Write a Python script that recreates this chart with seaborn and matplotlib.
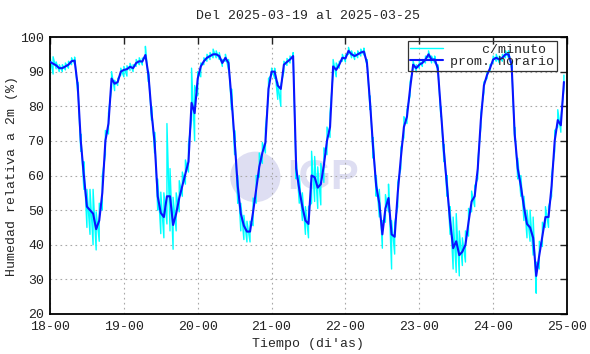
import numpy as np
import pandas as pd
import matplotlib
matplotlib.use("Agg")
import matplotlib.pyplot as plt
import seaborn as sns
from matplotlib.patches import Ellipse

# promedio horario de humedad relativa (%), 24 valores por dia
dia18 = [92.8, 92.3, 91.8, 91.0, 91.0, 91.5, 92.0, 93.0, 93.2, 86.0, 70.0, 60.0,
         51.0, 50.0, 49.0, 44.5, 47.0, 55.0, 70.0, 75.0, 88.0, 86.5, 87.0, 90.0]
dia19 = [90.5, 90.7, 91.4, 91.0, 92.5, 93.0, 92.9, 94.8, 89.0, 78.0, 69.5, 54.0,
         49.2, 48.0, 54.0, 54.0, 45.7, 49.0, 53.5, 57.0, 60.5, 64.0, 81.0, 78.0]
dia20 = [88.0, 91.5, 93.0, 94.0, 94.5, 95.0, 95.0, 94.5, 92.5, 94.0, 92.5, 82.0,
         70.0, 57.0, 49.0, 45.5, 43.8, 43.8, 49.5, 56.0, 62.5, 66.5, 69.5, 85.0]
dia21 = [90.0, 90.0, 86.0, 85.0, 92.0, 92.8, 93.5, 94.5, 62.0, 56.0, 51.0, 47.0,
         46.0, 60.0, 59.5, 56.5, 57.5, 63.0, 70.0, 74.0, 91.5, 90.5, 92.0, 94.0]
dia22 = [93.8, 96.0, 95.0, 94.5, 95.0, 95.5, 95.8, 92.5, 81.0, 68.0, 57.0, 52.0,
         43.0, 50.5, 53.5, 43.0, 42.3, 55.0, 65.0, 74.0, 77.0, 85.0, 92.0, 91.0]
dia23 = [92.0, 92.5, 93.5, 95.0, 93.5, 93.5, 91.0, 79.0, 67.0, 57.0, 47.0, 39.0,
         41.0, 37.0, 38.0, 40.0, 46.5, 52.5, 54.0, 62.0, 76.0, 86.0, 89.0, 91.0]
dia24 = [93.5, 94.0, 93.5, 94.0, 95.0, 95.0, 92.0, 72.0, 62.0, 57.0, 51.0, 46.0,
         45.0, 42.0, 31.0, 37.0, 42.5, 48.0, 48.0, 57.0, 70.0, 76.0, 74.5, 87.0]

# dispersion de los datos por minuto respecto al promedio (abajo / arriba)
bajo18 = [2, 3, 1, 1, 1, 1, 1, 1, 1, 2, 3, 4, 6, 7, 9, 6, 6, 5, 4, 3, 3, 2, 1, 1]
alto18 = [1.5, 2, 1, 1, 1, 1, 1, 1, 1, 1, 2, 4, 5, 6, 7, 5, 5, 5, 3, 3, 2, 1, 1, 1]
bajo19 = [2, 2, 1, 1, 1, 1, 1, 1, 2, 2, 3, 4, 6, 6, 8, 10, 7, 5, 4, 3, 3, 3, 5, 8]
alto19 = [1, 1, 1, 1, 1, 1, 1, 2.5, 1, 2, 3, 5, 6, 7, 21, 8, 8, 6, 5, 4, 4, 5, 10, 8]
bajo20 = [5, 3, 1, 1, 1, 1, 1, 1, 1, 1, 2, 3, 4, 5, 5, 4, 3, 3, 4, 4, 3, 3, 3, 2]
alto20 = [2, 1, 1, 1, 1, 1.5, 1, 1, 1, 1, 1, 3, 3, 3, 3, 3, 3, 3, 4, 4, 4, 3, 4, 3]
bajo21 = [1, 2, 4, 5, 2, 1, 1, 1, 3, 4, 4, 4, 4, 8, 7, 6, 6, 5, 4, 3, 2, 2, 1, 1]
alto21 = [1, 1, 1, 1, 1, 1, 1, 1, 3, 4, 4, 4, 5, 7, 6, 6, 6, 5, 4, 4, 2, 2, 1, 1]
bajo22 = [1, 1, 1, 1, 1, 1, 1, 1, 2, 3, 3, 4, 4, 4, 4, 10, 5, 4, 3, 3, 2, 2, 1, 1]
alto22 = [1, 1, 1, 1, 1, 1, 1, 1, 2, 3, 3, 4, 4, 4, 4, 4, 4, 3, 3, 3, 2, 2, 1, 1]
bajo23 = [1, 1, 1, 1, 1, 1, 1, 2, 3, 3, 4, 6, 9, 6, 4, 5, 4, 3, 3, 3, 2, 2, 1, 1]
alto23 = [1, 1, 1, 1, 1, 1, 1, 1, 2, 3, 4, 9, 8, 7, 4, 4, 4, 3, 3, 2, 2, 1, 1, 1]
bajo24 = [1, 1, 1, 1, 1, 1, 1, 2, 3, 3, 4, 4, 4, 5, 5, 4, 3, 3, 3, 3, 3, 2, 2, 2]
alto24 = [1, 1, 1, 1, 1, 1, 1, 2, 3, 3, 3, 4, 5, 6, 4, 4, 4, 3, 3, 3, 3, 3, 2, 2]

dias = [18, 19, 20, 21, 22, 23, 24, 25]
etiquetas_x = ["18-00", "19-00", "20-00", "21-00", "22-00", "23-00", "24-00", "25-00"]
ticks_y = [20, 30, 40, 50, 60, 70, 80, 90, 100]

prom = np.array(dia18 + dia19 + dia20 + dia21 + dia22 + dia23 + dia24)
bajo = np.array(bajo18 + bajo19 + bajo20 + bajo21 + bajo22 + bajo23 + bajo24)
alto = np.array(alto18 + alto19 + alto20 + alto21 + alto22 + alto23 + alto24)
t = 18 + np.arange(len(prom)) / 24.0

df = pd.DataFrame({"t": t, "prom": prom})

# serie por minuto: en cada hora va del minimo al maximo registrado
minuto = pd.DataFrame({
    "t": np.repeat(t, 2),
    "hr": np.column_stack([prom - bajo, prom + alto]).ravel(),
})

sns.set_theme(style="white")
plt.rcParams["font.family"] = ["Liberation Mono", "DejaVu Sans Mono"]
plt.rcParams["font.size"] = 9.5

fig = plt.figure(figsize=(5.9, 3.54), dpi=100)
ax = fig.add_axes([50 / 590, 40 / 354, 517 / 590, 277 / 354])

# marca de agua
ax.add_patch(Ellipse((20.78, 59.6), 0.68, 14.6, color="#dedef2", lw=0, zorder=0.5))
ax.text(21.70, 59.4, "IGP", fontsize=30, fontweight="bold", family="Liberation Sans",
        color="#dedef2", ha="center", va="center", zorder=0.5)

sns.lineplot(data=minuto, x="t", y="hr", sort=False, estimator=None, color="#00ffff",
             lw=1.0, ax=ax, zorder=2, label="    c/minuto")
sns.lineplot(data=df, x="t", y="prom", color="#0a14ff", lw=1.5, ax=ax, zorder=3,
             label="prom. horario")

ax.set_xlim(18, 25)
ax.set_ylim(20, 100)
ax.set_xticks(dias)
ax.set_xticklabels(etiquetas_x)
ax.set_yticks(ticks_y)
ax.tick_params(direction="in", top=True, right=True, length=5, width=1,
               labelsize=9.5, colors="#222222")
ax.tick_params(axis="x", pad=5)
ax.tick_params(axis="y", pad=4)
ax.grid(True, color="#a8a8a8", linestyle=(0, (1.5, 3)), linewidth=0.8)
for s in ax.spines.values():
    s.set_color("black")
    s.set_linewidth(1.3)

ax.set_xlabel("Tiempo (di'as)", fontsize=9.5, labelpad=4)
ax.set_ylabel("Humedad relativa a 2m (%)", fontsize=9.5, labelpad=2)
ax.set_title("Del 2025-03-19 al 2025-03-25", fontsize=9.5, pad=13)

leg = ax.legend(loc="upper right", bbox_to_anchor=(0.980, 0.9856), borderaxespad=0,
                fancybox=False, framealpha=1, edgecolor="#333333", fontsize=9.5,
                handlelength=2.5, handletextpad=0.5, labelspacing=0, borderpad=0.2)
leg.get_frame().set_facecolor("none")
leg.get_frame().set_linewidth(0.9)

fig.savefig("out.png", dpi=100)
